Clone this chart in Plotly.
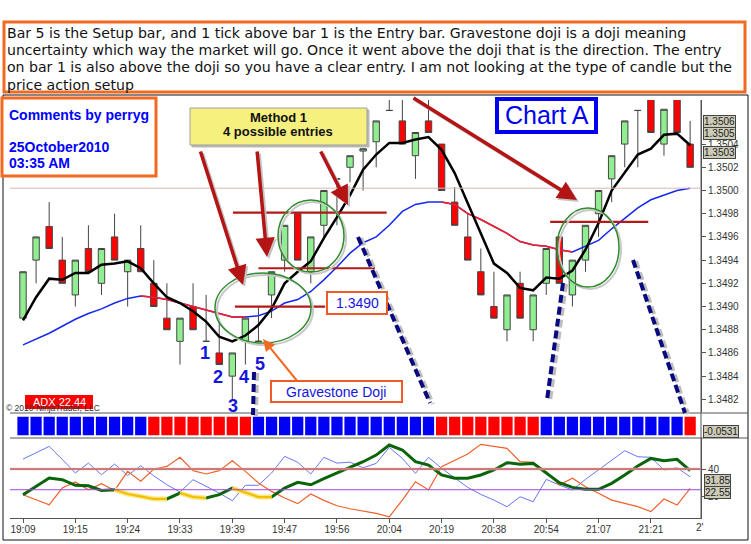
import plotly.graph_objects as go

W, H = 751, 544

# ---- data ----
bars = list(range(52))
tick_bars = [0, 4, 8, 12, 16, 20, 24, 28, 32, 36, 40, 44, 48]
tick_labels = ["19:09", "19:15", "19:24", "19:33", "19:39", "19:47", "19:56",
               "20:04", "20:19", "20:38", "20:54", "21:07", "21:21"]

opens = [1.3489, 1.3494, 1.34969, 1.3494, 1.3491, 1.3495, 1.3492, 1.3496, 1.3493, 1.3495,
         1.3492, 1.3489, 1.3487, 1.3490, 1.3487, 1.3486, 1.3484, 1.3487, 1.3487, 1.3491,
         1.3494, 1.3498, 1.3493, 1.3497, 1.3501, 1.3502, 1.35034, 1.35042, 1.35069, 1.3506,
         1.3503, 1.3506, 1.3504, 1.3499, 1.3496, 1.3493, 1.3490, 1.3488, 1.3492, 1.3488,
         1.3492, 1.3496, 1.3491, 1.3494, 1.3498, 1.3501, 1.3504, 1.35069, 1.35082, 1.3504,
         1.35082, 1.3504]
highs = [1.3493, 1.3496, 1.3499, 1.3496, 1.3494, 1.3497, 1.3495, 1.3498, 1.3494, 1.3497,
         1.3494, 1.3492, 1.3489, 1.3492, 1.3491, 1.3489, 1.3486, 1.3489, 1.3490, 1.3493,
         1.3497, 1.3498, 1.3496, 1.3500, 1.3501, 1.3503, 1.35036, 1.3506, 1.35082, 1.35082,
         1.3505, 1.35082, 1.3504, 1.35003, 1.3498, 1.3495, 1.3493, 1.3491, 1.3493, 1.3491,
         1.3495, 1.3496, 1.3494, 1.3497, 1.3500, 1.3503, 1.3506, 1.35069, 1.35082, 1.3507,
         1.35082, 1.3506]
lows = [1.3489, 1.3492, 1.3495, 1.3492, 1.3490, 1.3493, 1.3491, 1.3494, 1.3490, 1.3493,
        1.3490, 1.3488, 1.3485, 1.3488, 1.3487, 1.3485, 1.3482, 1.3485, 1.3487, 1.3489,
        1.3493, 1.3494, 1.3492, 1.3496, 1.3497, 1.35007, 1.3500, 1.3502, 1.35069, 1.3504,
        1.3501, 1.3505, 1.3500, 1.3497, 1.3494, 1.3491, 1.3489, 1.3487, 1.3489, 1.3487,
        1.3491, 1.3492, 1.3490, 1.3493, 1.3496, 1.3499, 1.3502, 1.3502, 1.3505, 1.3503,
        1.3505, 1.3502]
closes = [1.3493, 1.3496, 1.3495, 1.3492, 1.3494, 1.3493, 1.3495, 1.3494, 1.3494, 1.3493,
          1.3490, 1.3488, 1.3489, 1.3488, 1.3487, 1.3485, 1.3486, 1.3489, 1.3487, 1.3493,
          1.3497, 1.3494, 1.3496, 1.3500, 1.3501, 1.3503, 1.35036, 1.3506, 1.35069, 1.3504,
          1.3505, 1.3505, 1.3500, 1.3497, 1.3494, 1.3491, 1.3489, 1.3491, 1.3489, 1.3491,
          1.3495, 1.3492, 1.3494, 1.3497, 1.3500, 1.3503, 1.3506, 1.35069, 1.3505, 1.3507,
          1.3505, 1.3502]

fast_ma = [1.34888, 1.34908, 1.34924, 1.34923, 1.34929, 1.34929, 1.34936, 1.34937, 1.34939, 1.34933,
           1.34920, 1.34908, 1.34903, 1.34896, 1.34887, 1.34874, 1.34870, 1.34875, 1.34884, 1.34898,
           1.34920, 1.34930, 1.34939, 1.34959, 1.34977, 1.34996, 1.35018, 1.35031, 1.35041, 1.35041,
           1.35044, 1.35046, 1.35035, 1.35015, 1.34989, 1.34963, 1.34937, 1.34929, 1.34916, 1.34914,
           1.34925, 1.34924, 1.34931, 1.34949, 1.34972, 1.35000, 1.35015, 1.35031, 1.35036, 1.35048,
           1.35049, 1.35039]
slow_ma = [1.34867, 1.34872, 1.34877, 1.34883, 1.34889, 1.34894, 1.34898, 1.34903, 1.34907, 1.34909,
           1.34908, 1.34906, 1.34903, 1.34900, 1.34897, 1.34894, 1.34891, 1.34891, 1.34892, 1.34896,
           1.34903, 1.34906, 1.34913, 1.34923, 1.34934, 1.34946, 1.34955, 1.34960, 1.34970, 1.34982,
           1.34988, 1.34990, 1.34990, 1.34988, 1.34980, 1.34975, 1.34969, 1.34963, 1.34956, 1.34953,
           1.34952, 1.34949, 1.34947, 1.34952, 1.34957, 1.34967, 1.34976, 1.34985, 1.34992, 1.34996,
           1.35000, 1.35002]
# 1 = segment drawn red (falling), 0 = blue
slow_ma_down = [0, 0, 0, 0, 0, 0, 0, 0, 0, 1, 1, 1, 1, 1, 1, 1, 1, 0, 0, 0,
                0, 0, 0, 0, 0, 0, 0, 0, 0, 0, 0, 0, 1, 1, 1, 1, 1, 1, 1, 1,
                1, 1, 0, 0, 0, 0, 0, 0, 0, 0, 0, 0]

box_state = "BBBBBBBBBBRRRRRRRRBBBBBBBBBBBBBBRRRRRRRRBBBBBBBBBBBR"

adx = [21.4, 27.5, 33.5, 32.3, 28.2, 27.9, 24.5, 25.0, 21.9, 20.2,
       18.3, 18.3, 22.6, 19.7, 19.0, 21.4, 26.2, 23.1, 19.7, 19.7,
       26.2, 30.4, 28.6, 33.0, 37.1, 41.2, 45.3, 50.1, 57.4, 53.8,
       45.3, 42.9, 35.7, 33.3, 33.3, 35.7, 39.3, 44.6, 43.4, 44.1,
       36.9, 30.1, 26.7, 25.3, 25.3, 29.6, 35.7, 42.2, 47.7, 46.0,
       47.0, 38.8]
adx_weak = [0, 0, 0, 0, 0, 0, 0, 1, 1, 1, 1, 0, 1, 1, 0, 0, 1, 1, 1, 0,
            0, 0, 0, 0, 0, 0, 0, 0, 0, 0, 0, 0, 0, 0, 0, 0, 0, 0, 0, 0,
            0, 0, 0, 0, 0, 0, 0, 0, 0, 0, 0, 0]
di_plus = [47.2, 51.6, 56.4, 47.0, 37.1, 44.3, 35.9, 43.6, 35.4, 42.4,
           35.0, 28.6, 23.3, 32.3, 27.5, 22.6, 17.0, 28.2, 28.2, 37.1,
           49.2, 44.9, 36.4, 48.5, 44.3, 45.0, 40.9, 44.1, 55.7, 47.7,
           36.9, 48.5, 40.5, 33.3, 26.7, 21.6, 17.5, 12.7, 19.9, 16.3,
           32.5, 28.4, 24.8, 32.5, 39.3, 46.5, 53.3, 48.9, 48.5, 39.3,
           40.9, 34.4]
di_minus = [21.4, 17.7, 14.1, 26.2, 30.6, 25.0, 29.4, 24.5, 38.3, 31.1,
            40.0, 41.9, 48.5, 38.8, 36.4, 38.8, 46.0, 38.3, 29.9, 23.8,
            19.0, 14.9, 21.9, 17.3, 13.4, 11.2, 9.6, 7.9, 5.4, 17.5,
            30.8, 24.8, 41.7, 46.5, 50.9, 57.9, 56.2, 55.0, 45.3, 44.9,
            38.0, 28.4, 33.3, 27.2, 22.4, 17.5, 15.1, 12.7, 9.1, 18.3,
            13.9, 26.0]

price_ticks = [1.3482, 1.3484, 1.3486, 1.3488, 1.3490, 1.3492, 1.3494,
               1.3496, 1.3498, 1.3500, 1.3502, 1.3504]
price_tags = ["1.3506", "1.3505", "1.3503"]
entry_levels = [1.3490, 1.34933, 1.34981, 1.34973]


def px(x):
    return x / W


def py(y):
    return 1 - y / H


def runs(flags):
    out, start = [], None
    for i, f in enumerate(flags):
        if f and start is None:
            start = i
        if not f and start is not None:
            out.append((start, i))
            start = None
    if start is not None:
        out.append((start, len(flags) - 1))
    return out


XR = [-0.994, 51.83]
XD = [px(10), px(701)]
ORANGE = "#F26A21"

fig = go.Figure()

fig.add_trace(go.Candlestick(
    x=bars, open=opens, high=highs, low=lows, close=closes,
    increasing=dict(fillcolor="#90EE90", line=dict(color="#454545", width=1)),
    decreasing=dict(fillcolor="#FF0000", line=dict(color="#454545", width=1)),
    whiskerwidth=0, xaxis="x", yaxis="y", hoverinfo="skip"))

fig.add_trace(go.Scatter(x=bars, y=slow_ma, mode="lines",
                         line=dict(color="#1428F0", width=1.5), xaxis="x", yaxis="y"))
for a, b in runs(slow_ma_down):
    fig.add_trace(go.Scatter(x=bars[a:b + 1], y=slow_ma[a:b + 1], mode="lines",
                             line=dict(color="#FF1E1E", width=1.5), xaxis="x", yaxis="y"))
fig.add_trace(go.Scatter(x=bars, y=fast_ma, mode="lines",
                         line=dict(color="#000000", width=2.5), xaxis="x", yaxis="y"))

fig.add_trace(go.Bar(x=bars, y=[1] * len(bars), width=0.86,
                     marker=dict(color=["#0000F5" if s == "B" else "#FF0000" for s in box_state],
                                 line=dict(width=0)),
                     xaxis="x2", yaxis="y2", hoverinfo="skip"))

fig.add_trace(go.Scatter(x=bars, y=di_plus, mode="lines",
                         line=dict(color="#6878F0", width=1), xaxis="x3", yaxis="y3"))
fig.add_trace(go.Scatter(x=bars, y=di_minus, mode="lines",
                         line=dict(color="#F2602A", width=1.2), xaxis="x3", yaxis="y3"))
fig.add_trace(go.Scatter(x=bars, y=adx, mode="lines",
                         line=dict(color="#0A640A", width=3), xaxis="x3", yaxis="y3"))
for a, b in runs(adx_weak):
    fig.add_trace(go.Scatter(x=bars[a:b + 1], y=adx[a:b + 1], mode="lines",
                             line=dict(color="#FBE88A", width=5), xaxis="x3", yaxis="y3"))
    fig.add_trace(go.Scatter(x=bars[a:b + 1], y=adx[a:b + 1], mode="lines",
                             line=dict(color="#F0C000", width=2.2), xaxis="x3", yaxis="y3"))

axis_font = dict(family="Liberation Sans, Arial, sans-serif", size=10, color="#333333")

fig.update_layout(
    width=W, height=H, margin=dict(l=0, r=0, t=0, b=0),
    paper_bgcolor="white", plot_bgcolor="white", showlegend=False,
    xaxis=dict(domain=XD, range=XR, visible=False, rangeslider=dict(visible=False)),
    yaxis=dict(domain=[py(412), py(100)], range=[1.348091, 1.35078], side="right",
               tickvals=price_ticks, ticktext=["%.4f" % v for v in price_ticks],
               ticks="outside", ticklen=4, tickcolor="#555", showline=True,
               linecolor="#555", showgrid=False, zeroline=False, tickfont=axis_font),
    xaxis2=dict(domain=XD, range=XR, visible=False, anchor="y2"),
    yaxis2=dict(domain=[py(435.5), py(416.5)], range=[0, 1], visible=False, anchor="x2"),
    xaxis3=dict(domain=XD, range=XR, anchor="y3", tickvals=tick_bars, ticktext=tick_labels,
                ticks="outside", ticklen=4, tickcolor="#555", showline=True, linecolor="#555",
                showgrid=False, zeroline=False, tickfont=axis_font, ticklabelstandoff=-2),
    yaxis3=dict(domain=[py(518), py(438)], range=[4.5, 62.5], side="right", anchor="x3",
                tickvals=[20, 40], ticks="outside", ticklen=4, tickcolor="#555",
                showline=True, linecolor="#555", showgrid=False, zeroline=False,
                tickfont=axis_font),
)

shapes = []


def line(x0, y0, x1, y1, color, width, dash=None, ref=("paper", "paper")):
    d = dict(type="line", x0=x0, y0=y0, x1=x1, y1=y1, xref=ref[0], yref=ref[1],
             line=dict(color=color, width=width), layer="above")
    if dash:
        d["line"]["dash"] = dash
    shapes.append(d)


def rect(x0, y0, x1, y1, color, width, fill="white"):
    shapes.append(dict(type="rect", xref="paper", yref="paper", x0=px(x0), x1=px(x1),
                       y0=py(y1), y1=py(y0), line=dict(color=color, width=width),
                       fillcolor=fill, layer="above"))


def ellipse(x0, y0, x1, y1, color, width):
    shapes.append(dict(type="circle", xref="paper", yref="paper", x0=px(x0), x1=px(x1),
                       y0=py(y1), y1=py(y0), line=dict(color=color, width=width),
                       layer="above"))


# panel frame and separators
line(px(10), py(413), px(748), py(413), "#555", 1)
line(px(10), py(438), px(748), py(438), "#555", 1)
line(px(701), py(100), px(701), py(518), "#555", 1)
shapes.append(dict(type="rect", xref="paper", yref="paper", x0=px(3), x1=px(748),
                   y0=py(540), y1=py(95), line=dict(color="#111", width=1), layer="below"))

# reference lines
line(px(10), 1.35002, px(701), 1.35002, "#D9B4B4", 1, ref=("paper", "y"))
line(px(10), 40, px(701), 40, "#EBC4C4", 2.5, ref=("paper", "y3"))
line(px(10), 40, px(701), 40, "#B03030", 1, ref=("paper", "y3"))
line(px(10), 25, px(701), 25, "#A048E0", 1, ref=("paper", "y3"))

# drawn entry lines
for (xa, xb), lvl in zip([(16.2, 23.1), (18.0, 26.9), (16.05, 27.8), (40.3, 47.8)], entry_levels):
    line(xa, lvl, xb, lvl, "#B41818", 2.2, ref=("x", "y"))

# circles
for (a, b, c, d) in [(215, 273, 311, 343), (278, 200, 344, 272), (557, 208, 619, 287)]:
    ellipse(a + 2, b + 2, c + 2, d + 2, "#C8C8C8", 2)
    ellipse(a, b, c, d, "#2E8B2E", 1.5)

# navy dashed lines
for (a, b, c, d) in [(358, 237, 430, 403), (563, 283, 547, 400), (633, 260, 685, 413),
                     (254, 372, 253, 415)]:
    line(px(a + 3), py(b + 1), px(c + 3), py(d + 1), "#BDBDBD", 4, dash="8px,4px")
    line(px(a), py(b), px(c), py(d), "#0A0A80", 4, dash="8px,4px")

# boxes
rect(4, 22, 745, 92, ORANGE, 3)
rect(2, 98, 156, 176, ORANGE, 3)
rect(497, 99, 596, 132, "#0000F0", 4)
rect(192, 110, 369, 147, "#B8B8B8", 1, fill="#B8B8B8")
rect(190, 108, 367, 145, "#A0A0A0", 1, fill="#F6F07E")
rect(327, 292, 387, 314, "#F05A28", 2)
rect(271, 381, 402, 402, "#F05A28", 2)
rect(25, 395, 93, 409, "#FF0000", 0, fill="#FF0000")

fig.update_layout(shapes=shapes)

ann = []


def text(x, y, s, size, color="black", bold=False, anchor="left", family="Liberation Sans, Arial, sans-serif", **kw):
    if bold:
        s = "<b>" + s + "</b>"
    d = dict(x=px(x), y=py(y), xref="paper", yref="paper", text=s, showarrow=False,
             xanchor=anchor, yanchor="middle", font=dict(family=family, size=size, color=color))
    d.update(kw)
    ann.append(d)


note = ["Bar 5 is the Setup bar, and 1 tick above bar 1 is the Entry bar. Gravestone doji is a doji meaning",
        "uncertainty which way the market will go. Once it went above the doji that is the direction. The entry",
        "on bar 1 is also above the doji so you have a clear entry. I am not looking at the type of candle but the",
        "price action setup"]
for s, yy in zip(note, [33, 50, 67, 85]):
    text(5, yy, s, 14.1, "#111", family="DejaVu Sans, Verdana, sans-serif")

text(7, 115, "Comments by perryg", 14, "#0000FF", bold=True)
text(7, 147, "25October2010", 14, "#0000FF", bold=True)
text(7, 163, "03:35 AM", 14, "#0000FF", bold=True)
text(546.5, 115.5, "Chart A", 25, "#0000F0", anchor="center")
text(278, 117, "Method 1", 13, "#111", bold=True, anchor="center")
text(278, 131, "4 possible entries", 13, "#111", bold=True, anchor="center")
text(357, 303, "1.3490", 14, "#1515E0", anchor="center")
text(336, 391.5, "Gravestone Doji", 14, "#1515E0", anchor="center")
text(59, 402, "ADX 22.44", 11, "white", anchor="center")
text(4, 408, "© 2010 NinjaTrader, LLC", 8.5, "#333")

for s, (xx, yy) in zip(["1", "2", "4", "5", "3"],
                       [(205, 353), (218, 377), (244, 377), (260, 364), (233, 406)]):
    text(xx, yy, s, 18, "#1515E0", bold=True, anchor="center")

text(700, 527, "2'", 10, "#333", anchor="center")

for s, yy in zip(price_tags, [122, 133, 152.5]):
    text(703, yy, s, 10, "#222", bgcolor="#CBCBB8", bordercolor="#444", borderwidth=1, borderpad=0)
text(703, 431, "-0.0531", 10, "#222", bgcolor="#CBCBB8", bordercolor="#444", borderwidth=1, borderpad=0)
text(704, 480, "31.85", 10, "#222", bgcolor="#CBCBB8", bordercolor="#444", borderwidth=1, borderpad=0)
text(704, 492.5, "22.55", 10, "#222", bgcolor="#CBCBB8", bordercolor="#444", borderwidth=1, borderpad=0)

# arrows
for (hx, hy, tx, ty) in [(243, 285, 200, 150), (267, 257, 257, 150), (348, 205, 320, 150),
                         (577, 200, 412, 97)]:
    ann.append(dict(x=px(hx + 2), y=py(hy + 2), xref="paper", yref="paper", text="", showarrow=True,
                    ax=tx - hx, ay=ty - hy, arrowcolor="#C4C4C4", arrowwidth=3.5,
                    arrowhead=2, arrowsize=1.1))
    ann.append(dict(x=px(hx), y=py(hy), xref="paper", yref="paper", text="", showarrow=True,
                    ax=tx - hx, ay=ty - hy, arrowcolor="#B41414", arrowwidth=3.5,
                    arrowhead=2, arrowsize=1.1))
ann.append(dict(x=px(263), y=py(339), xref="paper", yref="paper", text="", showarrow=True,
                ax=35, ay=43, arrowcolor=ORANGE, arrowwidth=2, arrowhead=2, arrowsize=1.2))

fig.update_layout(annotations=ann)

# the page body has a default 8px margin; remove it so the figure sits at the window corner
fig.write_html("out.html", config={"displayModeBar": False},
               post_script="document.body.style.margin='0';")
